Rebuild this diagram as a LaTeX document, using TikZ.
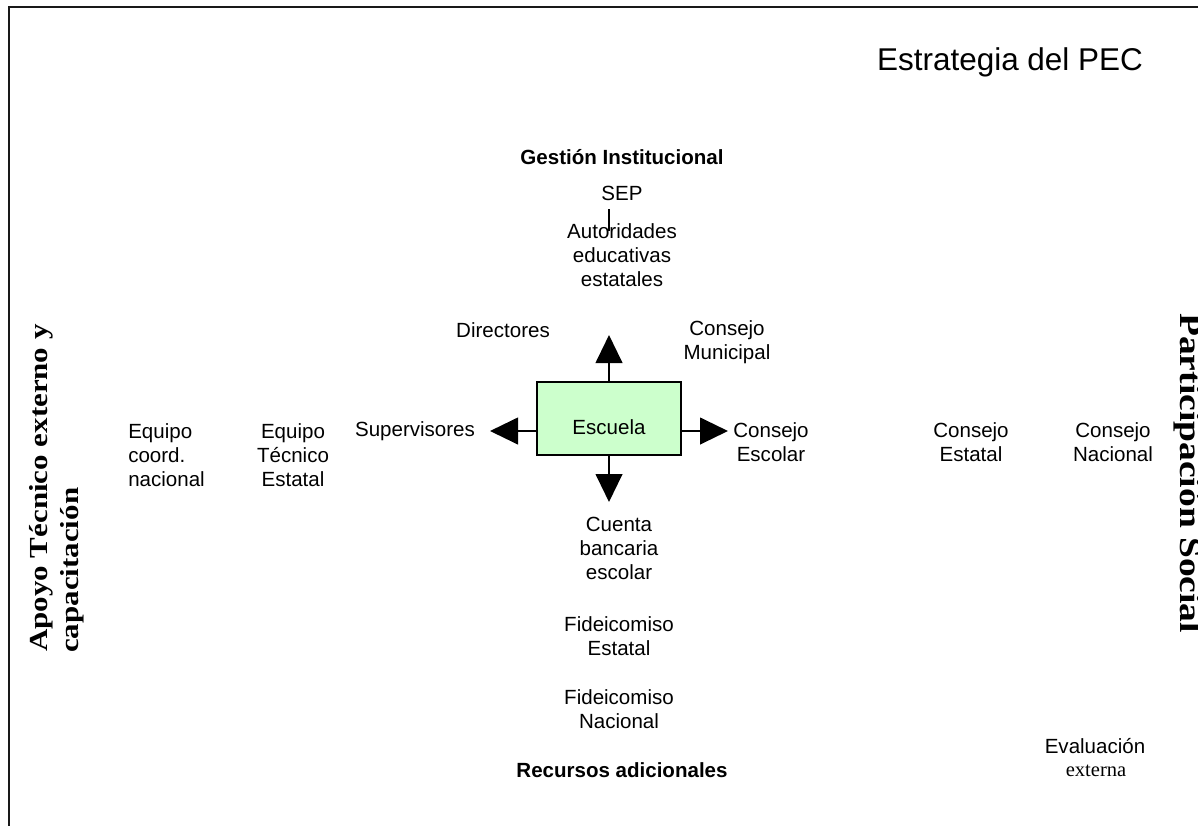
\documentclass[tikz,border=0pt]{standalone}
\usepackage{fontspec}
\usepackage{graphicx}
\setmainfont{Liberation Sans}
\newfontfamily\tnr{Liberation Serif}
\usetikzlibrary{arrows.meta}

\begin{document}
\begin{tikzpicture}[x=0.75pt,y=-0.75pt,
  lbl/.style={font=\fontsize{15.4}{18}\selectfont, align=center, inner sep=0pt},
  bold/.style={lbl, font=\fontsize{15.4}{18}\selectfont\bfseries},
  title/.style={font=\fontsize{23.6}{28}\selectfont, inner sep=0pt},
  sidetext/.style={inner sep=0pt, font=\tnr\bfseries},
  schoolbox/.style={draw=black, line width=1.2pt, fill=green!20, minimum width=108pt, minimum height=54.75pt, inner sep=0pt},
  conn/.style={line width=1.6pt, -{Triangle[length=21pt,width=20pt]}}
]
\useasboundingbox (0,0) rectangle (1198,825);
\begin{scope}
\clip (0,0) rectangle (1198,825);

% frame (top and left edges)
\draw[line width=1.5pt, black!90] (8.5,830) -- (8.5,6.5) -- (1200,6.5);

% title
\node[title] (title) at (1010,62) {Estrategia del PEC};

% institutional management axis
\node[bold] (gest) at (622,157) {Gestión Institucional};
\node[lbl] (sep) at (622,193) {SEP};
\node[lbl] (aut) at (622,255) {Autoridades\\educativas\\estatales};
\draw[line width=0.8pt] (609,209) -- (609,231);
\node[lbl] (dir) at (503,330) {Directores};
\node[lbl] (cmun) at (727,342) {Consejo\\Municipal};

% central box
\node[schoolbox] (esc) at (609,418.5) {};
\node[lbl] (escTxt) at (609,427) {Escuela};

% arrows out of the school
\coordinate (upEnd) at (609,335);
\coordinate (lEnd) at (490,431);
\coordinate (rEnd) at (728,431);
\coordinate (dEnd) at (609,502);
\draw[conn] (esc.north) -- (upEnd);
\draw[conn] (esc.west |- lEnd) -- (lEnd);
\draw[conn] (esc.east |- rEnd) -- (rEnd);
\draw[conn] (esc.south) -- (dEnd);

% technical support axis
\node[lbl] (sup) at (415,431) {Supervisores};
\node[lbl] (ete) at (293,455) {Equipo\\Técnico\\Estatal};
\node[lbl, align=left, anchor=west] (ecn) at (128,455) {Equipo\\coord.\\nacional};

% social participation axis
\node[lbl] (cesc) at (771,442) {Consejo\\Escolar};
\node[lbl] (cest) at (971,442) {Consejo\\Estatal};
\node[lbl] (cnac) at (1113,442) {Consejo\\Nacional};

% additional resources axis
\node[lbl] (cta) at (619,548) {Cuenta\\bancaria\\escolar};
\node[lbl] (fest) at (619,636) {Fideicomiso\\Estatal};
\node[lbl] (fnac) at (619,709) {Fideicomiso\\Nacional};
\node[bold] (rec) at (622,770) {Recursos adicionales};

% external evaluation
\node[lbl] (eval) at (1095,746) {Evaluación};
\node[inner sep=0pt, font=\tnr\fontsize{15.4}{18}\selectfont] (ext) at (1096,771) {externa};

% side captions
\node[sidetext, rotate=90, anchor=base west, font=\tnr\bfseries\fontsize{19.5}{23}\selectfont] (apoyo1) at (47,652) {\scalebox{1.19}[1]{Apoyo Técnico externo y}};
\node[sidetext, rotate=90, anchor=base west, font=\tnr\bfseries\fontsize{19.5}{23}\selectfont] (apoyo2) at (78,653) {\scalebox{1.19}[1]{capacitación}};
\node[sidetext, rotate=-90, anchor=base west, font=\tnr\bfseries\fontsize{23.25}{27}\selectfont] (part) at (1180,313) {\scalebox{1.21}[1]{Participación Social}};
\end{scope}
\end{tikzpicture}
\end{document}
